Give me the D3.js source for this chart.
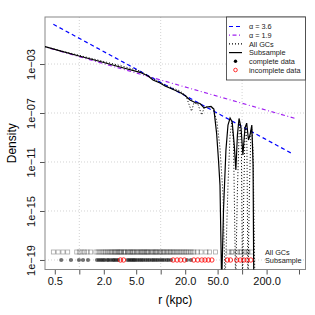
<!DOCTYPE html>
<html>
<head>
<meta charset="utf-8">
<script src="https://cdn.jsdelivr.net/npm/d3@7"></script>
<style>
  body { margin: 0; background: #fff; }
  text { font-family: "Liberation Sans", Arial, sans-serif; }
</style>
</head>
<body>
<div id="chart"></div>
<script>
// Density curves (r in kpc)
var subR = [0.38, 0.58, 1.02, 1.8, 3.16, 5.56, 7.0, 8.04, 9.8, 11.3, 13.8, 17.3, 19.9, 22.9, 26.4, 30.4, 34.1, 37, 41.5, 45,
    48.6, 51.3, 53.5, 56.1, 59.1, 63.3, 67.1, 71.2, 75.5, 80.1, 83.8, 87.6, 91.7, 97.1, 102.3, 108.4, 113.9, 119.8, 125, 131.6, 136.4, 139.2];
var subDens = [2.6e-2, 1.2e-2, 4.3e-3, 1.6e-3, 5.7e-4, 2.1e-4, 1.05e-4, 4.9e-5, 2.8e-5, 1.6e-5, 9.1e-6, 4.7e-6, 2.7e-6, 1.15e-6, 7.2e-7, 6.0e-7, 2.6e-7, 3.1e-7, 3.4e-7, 2.1e-7,
    2.3e-9, 1.4e-11, 1.3e-13, 1e-21, 1.2e-15, 9.5e-11, 1.05e-8, 3.9e-8, 1.9e-8, 2.5e-10, 2.2e-12, 1.6e-9, 3.6e-8, 6.0e-9, 3.7e-11, 6.0e-9, 1.5e-8, 6.3e-10, 1.6e-9, 1.05e-8, 5.7e-12, 1e-21];

var allR = [0.38, 0.58, 1.02, 1.8, 3.16, 5.56, 8.04, 11.3, 17.3, 20.5, 22.2, 23.9, 25.6, 28.6, 31.9, 34.1, 37.4, 41.5, 45, 49.1,
    53.5, 58.3, 61.8, 67.1, 71.2, 74.8, 78.4, 83.3, 87.6, 91.7, 94, 97.9, 101.3, 105, 108.4, 111, 114.6, 118, 123, 128, 131, 136.4, 143.7];
var allDens = [2.6e-2, 1.26e-2, 4.9e-3, 1.9e-3, 7.5e-4, 2.7e-4, 6.5e-5, 1.9e-5, 6.3e-6, 2.5e-6, 5.4e-7, 1.4e-7, 6.6e-7, 5.4e-7, 6.9e-8, 2.6e-7, 3.4e-7, 3.1e-7, 1.7e-7, 1.9e-8,
    1.4e-10, 2.0e-14, 1e-21, 1.3e-13, 1.6e-9, 1.9e-8, 4.3e-10, 1e-21, 5.1e-14, 1.6e-9, 1.5e-8, 2.5e-10, 1e-21, 5.1e-14, 1.6e-9, 1.05e-8, 2.5e-10, 1e-21, 5.1e-14, 1.6e-9, 7.2e-9, 9.5e-11, 1e-21];

// Power-law reference lines (end points)
var steepR = [0.48, 420], steepDens = [1.75, 4.5e-11];
var shallowR = [0.4, 469], shallowDens = [2.24e-2, 3.3e-8];

// Rug of cluster radii
var allGCs = [0.48, 0.55, 0.63, 0.72, 0.93, 1.0, 1.08, 1.16, 1.25, 1.38,
    1.6, 1.7, 1.8, 1.9, 2.0, 2.1, 2.2, 2.3, 2.4, 2.5, 2.6, 2.7, 2.8, 2.9, 3.0, 3.1, 3.2, 3.3, 3.5, 3.6, 3.7, 3.9, 4.0, 4.2, 4.3, 4.5,
    4.6, 4.8, 5.0, 5.2, 5.4, 5.6, 5.8, 6.0, 6.2, 6.4, 6.7, 6.9, 7.1, 7.4, 7.7, 8.0, 8.3, 8.6, 8.9, 9.2, 9.6, 10.0, 10.4, 10.8, 11.2,
    11.7, 12.2, 12.7, 13.2, 13.8, 14.4, 15.0, 15.7, 16.4, 17.2, 18.0, 18.9, 19.8, 20.8, 21.8, 23.0, 24.2,
    25.6, 28.3, 31.3, 36, 39.8, 47, 68.6, 74, 77, 87.5, 94, 97, 107, 112, 118, 130];
var subComplete = [0.6, 0.79, 0.99, 1.11, 1.28, 1.65, 1.75, 1.85, 1.95, 2.05, 2.2, 2.3, 2.45, 2.6, 2.7, 2.85, 3.0, 3.9, 4.1, 4.3,
    4.5, 4.7, 4.9, 5.2, 5.5, 5.8, 6.1, 6.5, 6.9, 7.3, 7.8, 8.2, 8.7, 9.2, 9.8, 10.4, 11.0, 11.8, 12.5, 13.4, 21, 23.5];
var subIncomplete = [3.2, 3.5, 14.2, 15.9, 17.6, 19.6, 25.5, 28.5, 32, 35, 38.5, 42.5, 66, 72, 86, 95, 105, 115, 128];

// Axis ticks
var xTicks = [0.5, 1, 2, 5, 10, 20, 50, 100, 200, 500];
var xTickLabels = ["0.5", "", "2.0", "5.0", "", "20.0", "50.0", "", "200.0", ""];
var yTicks = [1e-3, 1e-7, 1e-11, 1e-15, 1e-19];
var yTickLabels = ["1e\u221203", "1e\u221207", "1e\u221211", "1e\u221215", "1e\u221219"];
var gridR = [1, 10, 100];

var legendLabels = ["\u03b1 = 3.6", "\u03b1 = 1.9", "All GCs", "Subsample", "complete data", "incomplete data"];
var rugLabels = ["All GCs", "Subsample"];

var margin = { top: 17, right: 9.5, bottom: 45.5, left: 45 },
    width = 315 - margin.left - margin.right,
    height = 315 - margin.top - margin.bottom;

var svg = d3.select('#chart').append('svg')
    .attr('width', 315)
    .attr('height', 315)
    .append('g')
    .attr('transform', 'translate(' + margin.left + ',' + margin.top + ')');

var x = d3.scaleLog().domain([0.379, 601]).range([0, width]);
var y = d3.scaleLog().domain([1.67e-20, 6.9]).range([height, 0]);

svg.append('clipPath').attr('id', 'clip')
    .append('rect').attr('width', width).attr('height', height);

// grid
svg.selectAll('.vgrid').data(gridR).enter().append('line')
    .attr('x1', function (d) { return x(d); }).attr('x2', function (d) { return x(d); })
    .attr('y1', 0).attr('y2', height)
    .attr('stroke', '#d3d3d3').attr('stroke-dasharray', '1,2');
svg.selectAll('.hgrid').data(yTicks).enter().append('line')
    .attr('x1', 0).attr('x2', width)
    .attr('y1', function (d) { return y(d); }).attr('y2', function (d) { return y(d); })
    .attr('stroke', '#d3d3d3').attr('stroke-dasharray', '1,2');

// axes
var xAxis = svg.append('g')
    .attr('transform', 'translate(0,' + height + ')')
    .call(d3.axisBottom(x).tickValues(xTicks).tickSize(5).tickPadding(3)
        .tickFormat(function (d, i) { return xTickLabels[i]; }));
var yAxis = svg.append('g')
    .call(d3.axisLeft(y).tickValues(yTicks).tickSize(5).tickPadding(3)
        .tickFormat(function (d, i) { return yTickLabels[i]; }));
[xAxis, yAxis].forEach(function (a) {
    a.select('.domain').remove();
    a.selectAll('line').attr('stroke', '#555');
    a.selectAll('text').style('font-size', '11px').attr('fill', '#111')
        .style('font-family', '"Liberation Sans", Arial, sans-serif');
});
yAxis.selectAll('text')
    .attr('transform', 'rotate(-90)')
    .attr('text-anchor', 'middle')
    .attr('x', 0).attr('y', -10).attr('dy', 0);

svg.append('rect')
    .attr('width', width).attr('height', height)
    .attr('fill', 'none').attr('stroke', '#888').attr('stroke-width', 1);

// axis titles
svg.append('text')
    .attr('x', width / 2).attr('y', height + 34)
    .attr('text-anchor', 'middle').style('font-size', '12px')
    .text('r (kpc)');
svg.append('text')
    .attr('transform', 'translate(' + (-29) + ',' + (height / 2) + ') rotate(-90)')
    .attr('text-anchor', 'middle').style('font-size', '12px')
    .text('Density');

var plot = svg.append('g').attr('clip-path', 'url(#clip)');

function pairs(rs, ds) {
    return rs.map(function (r, i) { return [r, ds[i]]; });
}
var line = d3.line()
    .x(function (d) { return x(d[0]); })
    .y(function (d) { return y(d[1]); });

// reference power laws
plot.append('path').datum(pairs(steepR, steepDens)).attr('d', line)
    .attr('fill', 'none').attr('stroke', '#0000ff').attr('stroke-width', 1.2)
    .attr('stroke-dasharray', '4,3');
plot.append('path').datum(pairs(shallowR, shallowDens)).attr('d', line)
    .attr('fill', 'none').attr('stroke', '#a020f0').attr('stroke-width', 1.2)
    .attr('stroke-dasharray', '1,2.5,4,2.5');

// density curves
plot.append('path').datum(pairs(allR, allDens)).attr('d', line)
    .attr('fill', 'none').attr('stroke', '#000').attr('stroke-width', 1)
    .attr('stroke-dasharray', '1,2');
plot.append('path').datum(pairs(subR, subDens)).attr('d', line)
    .attr('fill', 'none').attr('stroke', '#000').attr('stroke-width', 1.2);

// rug rows
var rowAll = 235, rowSub = 243;
svg.selectAll('.sq').data(allGCs).enter().append('rect')
    .attr('x', function (d) { return x(d) - 2; }).attr('y', rowAll - 2)
    .attr('width', 4).attr('height', 4)
    .attr('fill', 'none').attr('stroke', '#000').attr('stroke-opacity', 0.35).attr('stroke-width', 0.8);
svg.selectAll('.cc').data(subComplete).enter().append('circle')
    .attr('cx', function (d) { return x(d); }).attr('cy', rowSub).attr('r', 2.1)
    .attr('fill', '#000').attr('fill-opacity', 0.55);
svg.selectAll('.ci').data(subIncomplete).enter().append('circle')
    .attr('cx', function (d) { return x(d); }).attr('cy', rowSub).attr('r', 2.2)
    .attr('fill', 'none').attr('stroke', '#ff0000').attr('stroke-width', 0.8);

svg.selectAll('.rugLab').data(rugLabels).enter().append('text')
    .attr('x', 220).attr('y', function (d, i) { return (i === 0 ? rowAll : rowSub) + 2.5; })
    .style('font-size', '7.3px').attr('fill', '#222')
    .text(function (d) { return d; });

// legend
var lg = svg.append('g').attr('transform', 'translate(' + (226.5 - margin.left) + ',0)');
lg.append('rect').attr('width', 79).attr('height', 63)
    .attr('fill', '#fff').attr('stroke', '#333').attr('stroke-width', 0.8);
var legendStyles = [
    { stroke: '#0000ff', dash: '4,3' },
    { stroke: '#a020f0', dash: '1,2.5,4,2.5' },
    { stroke: '#000', dash: '1,2' },
    { stroke: '#000', dash: null },
    { point: 'filled' },
    { point: 'open' }
];
legendLabels.forEach(function (lab, i) {
    var yy = 9.5 + i * 8.7;
    var s = legendStyles[i];
    if (s.point === 'filled') {
        lg.append('circle').attr('cx', 9).attr('cy', yy).attr('r', 1.7).attr('fill', '#000');
    } else if (s.point === 'open') {
        lg.append('circle').attr('cx', 9).attr('cy', yy).attr('r', 1.8)
            .attr('fill', 'none').attr('stroke', '#ff0000').attr('stroke-width', 0.8);
    } else {
        lg.append('line').attr('x1', 2.5).attr('x2', 15.5).attr('y1', yy).attr('y2', yy)
            .attr('stroke', s.stroke).attr('stroke-width', 1.2)
            .attr('stroke-dasharray', s.dash);
    }
    lg.append('text').attr('x', 22.5).attr('y', yy + 2.6)
        .style('font-size', '7.3px').attr('fill', '#222').text(lab);
});
</script>
</body>
</html>
